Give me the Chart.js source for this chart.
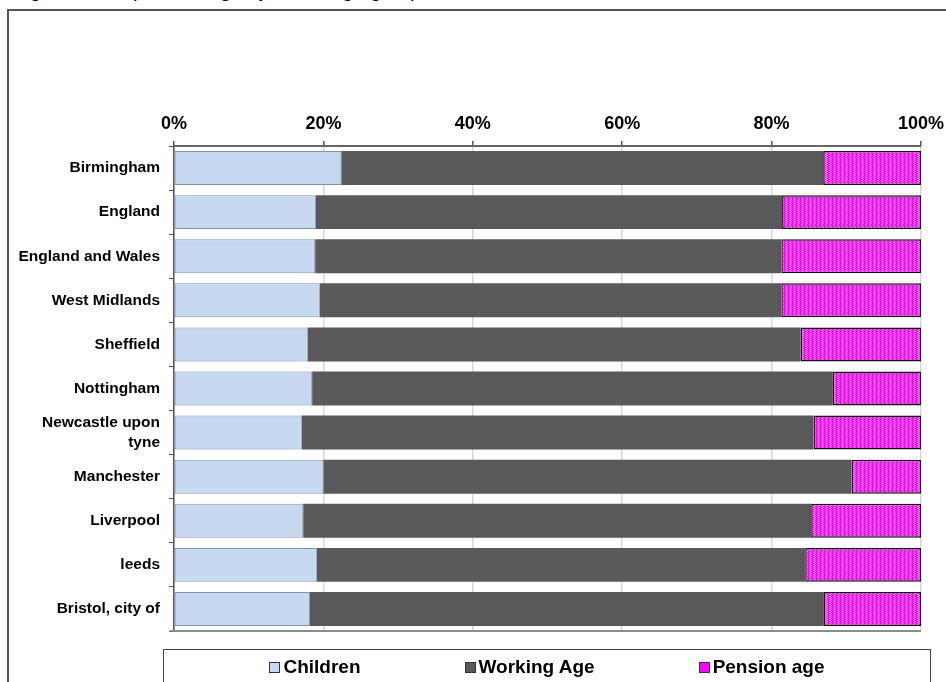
<!DOCTYPE html>
<html>
<head>
<meta charset="utf-8">
<script src="https://cdn.jsdelivr.net/npm/chart.js@4.4.0/dist/chart.umd.min.js"></script>
<style>
    body { margin: 0; overflow: hidden; background: #fff; font-family: "Liberation Sans", Arial, sans-serif; }
    #wrap { position: relative; width: 946px; height: 682px; overflow: hidden; }
    #title { position: absolute; left: 13px; top: -20px; font-size: 20px; line-height: 20px; white-space: nowrap; color: #000; }
    #frame { position: absolute; left: 7px; top: 9px; width: 980px; height: 720px; border-top: 2px solid #555; border-left: 2px solid #555; }
    #myChart { position: absolute; left: 0; top: 0; }
    #legend { position: absolute; left: 163px; top: 649px; width: 768px; height: 60px; border: 1px solid #444; box-sizing: border-box;
              display: flex; justify-content: center; gap: 104px; padding-top: 7px; }
    .item { display: flex; align-items: center; font-weight: bold; font-size: 19px; line-height: 20px; height: 20px; }
    .sw { width: 9px; height: 9px; border: 1px solid #333; margin-right: 3px; }
</style>
</head>
<body>
<div id="wrap">
    <div id="title">Figure 3 – Population age by broad age group – Core cities</div>
    <div id="frame"></div>
    <canvas id="myChart" width="946" height="682"></canvas>
    <div id="legend"></div>
</div>
<script>
const areas = ['Birmingham', 'England', 'England and Wales', 'West Midlands', 'Sheffield', 'Nottingham',
    ['Newcastle upon', 'tyne'], 'Manchester', 'Liverpool', 'leeds', 'Bristol, city of'];
const children    = [22.4, 19.0, 18.9, 19.5, 17.9, 18.5, 17.1, 20.0, 17.3, 19.1, 18.2];
const workingAge  = [64.5, 62.4, 62.4, 61.8, 66.0, 69.7, 68.5, 70.7, 68.0, 65.4, 68.8];
const pensionAge  = [13.1, 18.6, 18.7, 18.7, 16.1, 11.8, 14.4,  9.3, 14.7, 15.5, 13.0];
const percentTicks = [0, 20, 40, 60, 80, 100];

// dotted magenta fill like the original
function pinkPattern() {
    const c = document.createElement('canvas');
    c.width = 4; c.height = 2;
    const g = c.getContext('2d');
    g.fillStyle = '#ff00ff';
    g.fillRect(0, 0, 4, 2);
    g.fillStyle = '#ff8cff';
    g.fillRect(1, 0, 1, 1);
    g.fillRect(3, 1, 1, 1);
    g.fillStyle = '#ff4dff';
    g.fillRect(2, 0, 1, 2);
    return g.createPattern(c, 'repeat');
}

const bottomLine = {
    id: 'bottomLine',
    afterDraw(chart) {
        const a = chart.chartArea, ctx = chart.ctx;
        ctx.save();
        ctx.strokeStyle = '#8c8c8c';
        ctx.lineWidth = 2;
        ctx.beginPath();
        ctx.moveTo(a.left - 4, a.bottom);
        ctx.lineTo(a.right, a.bottom);
        ctx.stroke();
        ctx.restore();
    }
};

document.addEventListener('DOMContentLoaded', () => {
    const data = {
        labels: areas,
        datasets: [{
            label: 'Children',
            data: children,
            backgroundColor: '#c6d9f1',
            borderColor: '#7f93b0',
            borderWidth: 1,
            borderSkipped: false
        }, {
            label: 'Working Age',
            data: workingAge,
            backgroundColor: '#595959',
            borderWidth: 0
        }, {
            label: 'Pension age',
            data: pensionAge,
            backgroundColor: pinkPattern(),
            swatch: '#ff00ff',
            borderColor: '#111111',
            borderWidth: 1.5,
            borderSkipped: false
        }]
    };

    const config = {
        type: 'bar',
        data: data,
        options: {
            indexAxis: 'y',
            responsive: false,
            animation: false,
            layout: { padding: { left: 0, right: 25, top: 0, bottom: 51 } },
            datasets: { bar: { categoryPercentage: 1, barPercentage: 0.77 } },
            plugins: { legend: { display: false }, tooltip: { enabled: false } },
            scales: {
                x: {
                    position: 'top',
                    stacked: true,
                    min: 0,
                    max: 100,
                    afterBuildTicks: (axis) => { axis.ticks = percentTicks.map(v => ({ value: v })); },
                    afterFit: (axis) => { axis.height = 146; axis.paddingLeft = 0; axis.paddingRight = 0; },
                    ticks: {
                        padding: 6,
                        color: '#000',
                        font: { family: '"Liberation Sans", Arial', size: 18, weight: 'bold' },
                        callback: (v) => v + '%'
                    },
                    grid: { color: '#d6d6d6', lineWidth: 1.5, tickLength: 5, tickColor: '#555' },
                    border: { color: '#666', width: 2 }
                },
                y: {
                    stacked: true,
                    afterFit: (axis) => { axis.width = 174; },
                    ticks: {
                        padding: 9,
                        color: '#000',
                        font: { family: '"Liberation Sans", Arial', size: 15.5, weight: 'bold', lineHeight: 1.25 }
                    },
                    grid: { drawOnChartArea: false, tickLength: 5, tickColor: '#555' },
                    border: { color: '#555', width: 1.5 }
                }
            }
        },
        plugins: [bottomLine]
    };

    const myChart = new Chart(document.getElementById('myChart'), config);

    // legend built from the datasets
    const leg = document.getElementById('legend');
    myChart.data.datasets.forEach(ds => {
        const it = document.createElement('div');
        it.className = 'item';
        const sw = document.createElement('span');
        sw.className = 'sw';
        sw.style.background = ds.swatch || ds.backgroundColor;
        it.appendChild(sw);
        it.appendChild(document.createTextNode(ds.label));
        leg.appendChild(it);
    });
});
</script>
</body>
</html>
